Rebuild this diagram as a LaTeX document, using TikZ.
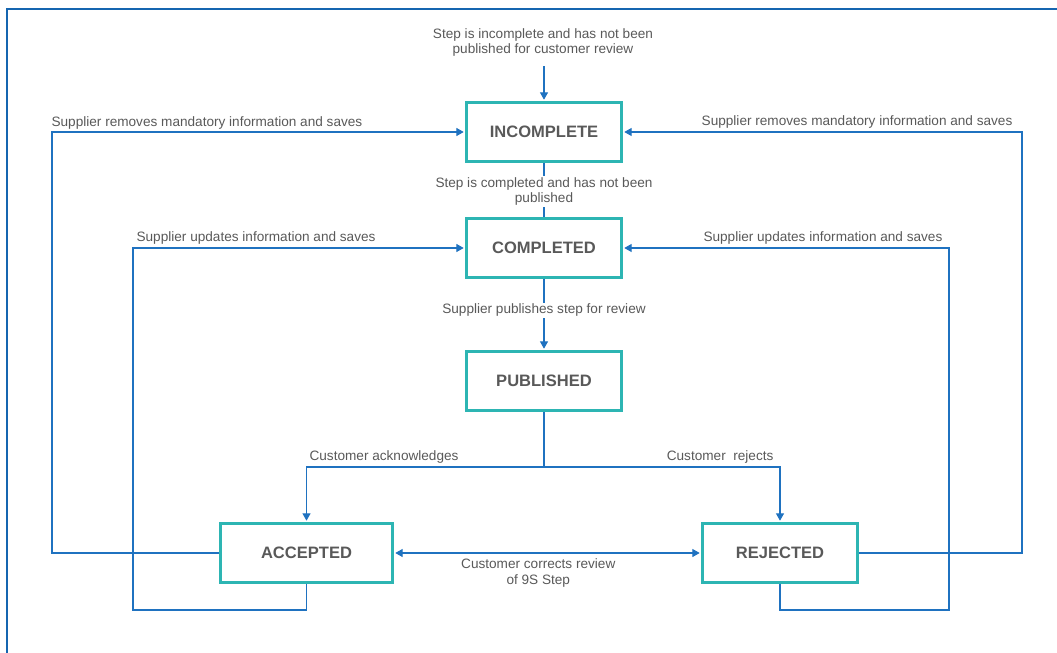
\documentclass[tikz,border=0pt]{standalone}
\usepackage{fontspec}
\setmainfont{Liberation Sans}
\usepackage{xcolor}
\usetikzlibrary{arrows.meta, positioning, calc}

\definecolor{boxteal}{HTML}{2DB5B3}
\definecolor{flowblue}{HTML}{1F72C0}
\definecolor{textgray}{HTML}{595959}
\definecolor{frameblue}{HTML}{1565B0}

\begin{document}
\begin{tikzpicture}[x=0.75pt, y=-0.75pt,
  state/.style={draw=boxteal, line width=2.2pt, minimum width=116.25pt, minimum height=44.25pt,
    inner sep=0pt, text=textgray, font=\fontsize{12.4}{14}\selectfont\bfseries},
  flow/.style={draw=flowblue, line width=0.8pt},
  tip/.style={-{Triangle[length=5.5pt,width=6pt]}, shorten >=1pt},
  note/.style={text=textgray, align=center, inner sep=1pt, font=\fontsize{10.2}{11.6}\selectfont}]
\useasboundingbox (0,0) rectangle (1057,653);

% Frame
\draw[frameblue, line width=1.6pt] (7,653) -- (7,9) -- (1057,9);

% States
\node[state] (incomplete) at (544,132) {INCOMPLETE};
\node[state] (completed) at (544,248) {COMPLETED};
\node[state] (published) at (544,381) {PUBLISHED};
\node[state, minimum width=129pt] (accepted) at (306.5,553) {ACCEPTED};
\node[state] (rejected) at (780,553) {REJECTED};

% Rails
\coordinate (start) at (544,66);
\coordinate (split) at (544,467);
\coordinate (outerL) at (52,610);
\coordinate (innerL) at (133,610);
\coordinate (outerR) at (1022,610);
\coordinate (innerR) at (949,610);

% Main flow
\node[note] (startlabel) at (543,42.5) {Step is incomplete and has not been\\published for customer review};
\draw[flow, tip] (start) -- (incomplete.north);
\draw[flow] (incomplete.south) -- (completed.north)
    node[pos=0.53, note, fill=white] {Step is completed and has not been\\published};
\draw[flow, tip] (completed.south) -- (published.north)
    node[pos=0.44, note, fill=white] {Supplier publishes step for review};

% Customer review
\draw[flow] (published.south) -- (split);
\draw[flow, tip] (split) -| (accepted.north);
\draw[flow, tip] (split) -| (rejected.north);
\node[note, anchor=west] (acklabel) at (308,457) {Customer acknowledges};
\node[note, anchor=east] (rejlabel) at (775,457) {Customer\ \ rejects};
\draw[flow, {Triangle[length=5.5pt,width=6pt]}-{Triangle[length=5.5pt,width=6pt]}, shorten <=1pt, shorten >=1pt]
    (accepted.east) -- (rejected.west)
    node[pos=0.47, below=3pt, note] {Customer corrects review\\of 9S Step};

% Supplier loops
\draw[flow, tip] (accepted.west) -- (accepted.west -| outerL) |- (incomplete.west);
\draw[flow, tip] (accepted.south) |- (innerL) |- (completed.west);
\draw[flow, tip] (rejected.east) -- (rejected.east -| outerR) |- (incomplete.east);
\draw[flow, tip] (rejected.south) |- (innerR) |- (completed.east);
\node[note, anchor=west] (removeL) at (50,123) {Supplier removes mandatory information and saves};
\node[note, anchor=east] (removeR) at (1014,122) {Supplier removes mandatory information and saves};
\node[note, anchor=west] (updateL) at (135,238) {Supplier updates information and saves};
\node[note, anchor=east] (updateR) at (944,238) {Supplier updates information and saves};
\end{tikzpicture}
\end{document}
